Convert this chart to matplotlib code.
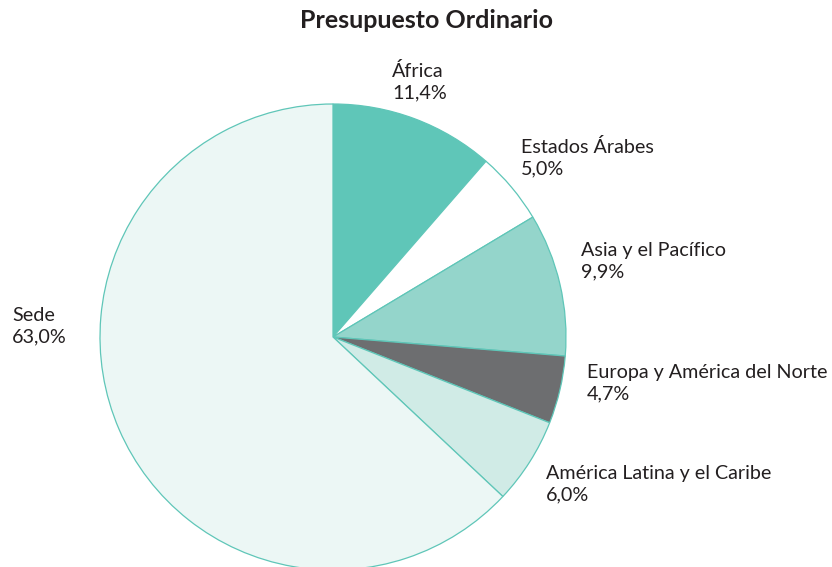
import matplotlib
matplotlib.use("Agg")
import matplotlib.pyplot as plt

regions = ["África", "Estados Árabes", "Asia y el Pacífico",
           "Europa y América del Norte", "América Latina y el Caribe", "Sede"]
shares = [11.4, 5.0, 9.9, 4.7, 6.0, 63.0]
colors = ["#5fc6b8", "#ffffff", "#94d5cb", "#6d6e70", "#d0ebe6", "#ecf7f5"]

# label anchor points (left x, centre y) in pixels from top-left
label_pos = [(392, 82), (521, 158), (581, 261), (587, 383), (546, 484), (12, 326)]

plt.rcParams['font.family'] = ['Lato', 'DejaVu Sans']

W, H = 832, 567
fig = plt.figure(figsize=(W / 100, H / 100), dpi=100)
ax = fig.add_axes([0, 0, 1, 1])

ax.pie(shares, colors=colors, startangle=90, counterclock=False,
       center=(333, H - 337), radius=233, frame=True,
       wedgeprops=dict(edgecolor="#5fc6b8", linewidth=0.9))
ax.set_xlim(0, W)
ax.set_ylim(0, H)
ax.set_aspect("auto")
ax.axis("off")

for name, val, (x, y) in zip(regions, shares, label_pos):
    txt = f"{name}\n{val:.1f}%".replace(".", ",")
    ax.text(x, H - y, txt, ha="left", va="center", fontsize=14.2,
            color="#231f20", linespacing=1.3)

ax.text(426, H - 20, "Presupuesto Ordinario", ha="center", va="center",
        fontsize=18, fontweight="bold", color="#231f20")

fig.savefig("out.png", dpi=100)
